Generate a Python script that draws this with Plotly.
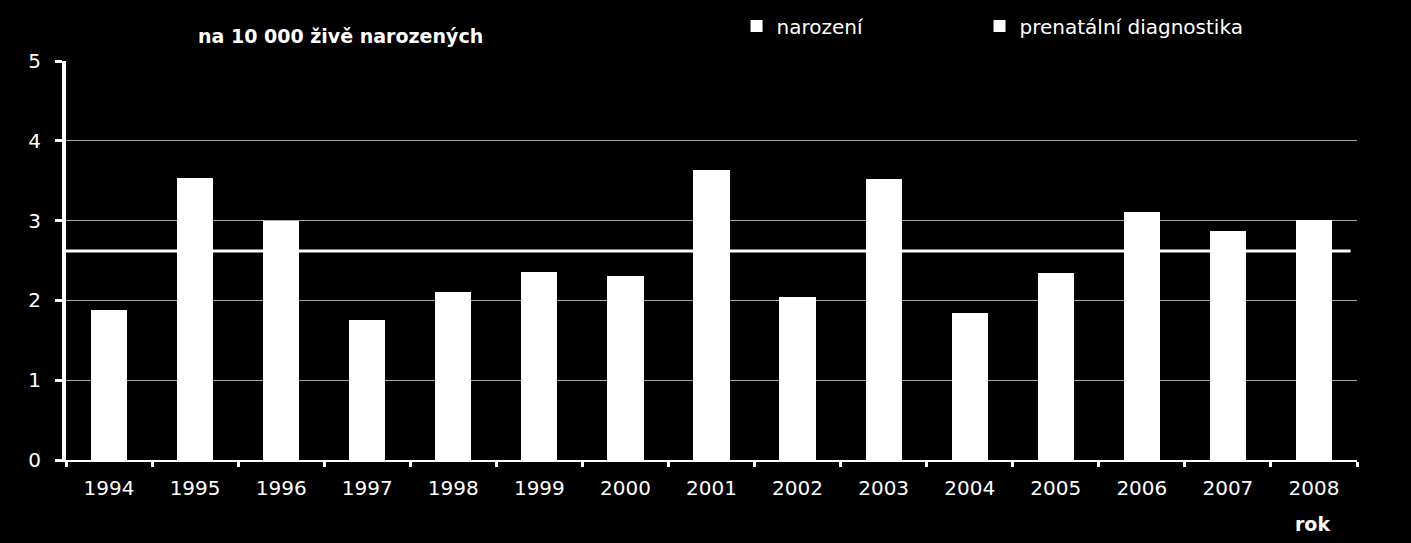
import plotly.graph_objects as go

roky = ["1994", "1995", "1996", "1997", "1998", "1999", "2000", "2001",
        "2002", "2003", "2004", "2005", "2006", "2007", "2008"]
narozeni = [1.88, 3.54, 2.99, 1.76, 2.10, 2.36, 2.31, 3.63,
            2.04, 3.52, 1.84, 2.34, 3.11, 2.87, 3.01]
prenatalni = [None] * len(roky)
prumer = 2.62

FONT = "DejaVu Sans, Liberation Sans, Arial, sans-serif"

fig = go.Figure()
fig.add_trace(go.Bar(x=roky, y=narozeni, name="narození", legend="legend",
                     marker=dict(color="white", line=dict(width=0))))
fig.add_trace(go.Bar(x=roky, y=prenatalni, name="prenatální diagnostika", legend="legend2",
                     marker=dict(color="white", line=dict(width=0))))

fig.add_shape(type="line", xref="paper", yref="y", x0=-0.002, x1=0.995,
              y0=prumer, y1=prumer, line=dict(color="white", width=3), layer="above")

legend_common = dict(orientation="h", xref="container", yref="container",
                     y=0.988, xanchor="left", yanchor="top",
                     font=dict(size=20, color="white", family=FONT),
                     bgcolor="rgba(0,0,0,0)", itemclick=False, itemdoubleclick=False)

fig.update_layout(
    width=1411, height=543,
    paper_bgcolor="black", plot_bgcolor="black",
    margin=dict(l=66, r=54, t=61, b=83, autoexpand=False),
    barmode="stack", bargap=0.58,
    font=dict(family=FONT, color="white", size=20),
    showlegend=True,
    legend=dict(x=0.522, **legend_common),
    legend2=dict(x=0.6942, **legend_common),
    xaxis=dict(type="category", showgrid=False, showline=True, linecolor="white",
               linewidth=2, ticks="outside", tickson="boundaries", tickcolor="white",
               tickwidth=3, ticklen=5, ticklabelstandoff=9,
               tickfont=dict(size=20, color="white", family=FONT),
               fixedrange=True),
    yaxis=dict(range=[0, 5], dtick=1, showgrid=True, gridcolor="#a8a8a8", gridwidth=1,
               showline=True, linecolor="white", linewidth=4, ticks="outside",
               tickcolor="white", tickwidth=3, ticklen=7, ticklabelstandoff=10,
               tickfont=dict(size=20, color="white", family=FONT),
               zeroline=False, fixedrange=True),
    annotations=[
        dict(text="<b>na 10 000 živě narozených</b>", xref="paper", yref="paper",
             x=(340 - 66) / 1291, y=1.0, yshift=25, xanchor="center", yanchor="middle",
             showarrow=False, font=dict(size=19, color="white", family=FONT)),
        dict(text="<b>rok</b>", xref="paper", yref="paper",
             x=(1312 - 66) / 1291, y=0, yshift=-64, xanchor="center", yanchor="middle",
             showarrow=False, font=dict(size=19, color="white", family=FONT)),
    ],
)

fig.write_html("out.html")
